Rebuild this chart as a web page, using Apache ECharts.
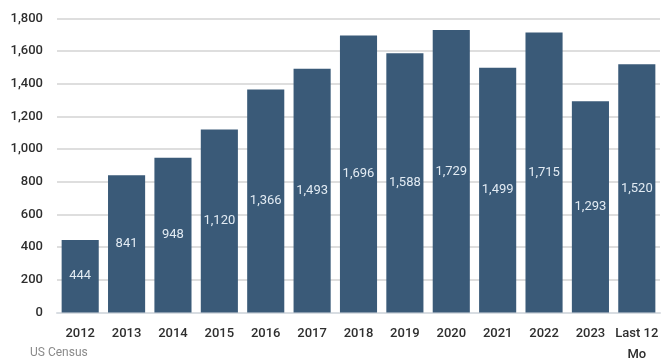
<!DOCTYPE html>
<html>
<head>
<meta charset="utf-8">
<script src="https://cdn.jsdelivr.net/npm/echarts@6/dist/echarts.min.js"></script>
<style>
  html, body { margin: 0; padding: 0; background: #ffffff; }
  #chart { width: 667px; height: 362px; }
</style>
</head>
<body>
<div id="chart"></div>
<script>
// Annual values by year, plus the trailing twelve months
const categories = ['2012', '2013', '2014', '2015', '2016', '2017', '2018', '2019', '2020', '2021', '2022', '2023', 'Last 12\nMo'];
const values = [444, 841, 948, 1120, 1366, 1493, 1696, 1588, 1729, 1499, 1715, 1293, 1520];
const yTicks = [0, 200, 400, 600, 800, 1000, 1200, 1400, 1600, 1800];
const sourceNote = 'US Census';

const FONT = 'Roboto, "Noto Sans", sans-serif';
const fmt = v => v.toLocaleString('en-US');

const chart = echarts.init(document.getElementById('chart'), null, { renderer: 'canvas' });
chart.setOption({
  animation: false,
  backgroundColor: '#ffffff',
  grid: {
    left: 57, right: 7, top: 18.5, bottom: 49.5,
    containLabel: false, outerBoundsMode: 'none'
  },
  graphic: [{
    type: 'text',
    left: 30,
    top: 347,
    style: { text: sourceNote, fill: '#8a8a8a', font: '12px ' + FONT }
  }],
  xAxis: {
    type: 'category',
    data: categories,
    axisTick: { show: false },
    axisLine: { show: true, lineStyle: { color: '#d8dde2', width: 2 } },
    axisLabel: {
      color: '#2e2e2e', fontFamily: FONT, fontSize: 13, fontWeight: 500,
      margin: 11, lineHeight: 21, interval: 0
    }
  },
  yAxis: {
    type: 'value',
    min: yTicks[0],
    max: yTicks[yTicks.length - 1],
    interval: yTicks[1] - yTicks[0],
    axisLine: { show: false },
    axisTick: { show: false },
    splitLine: { lineStyle: { color: '#dedede', width: 2 } },
    axisLabel: {
      color: '#2e2e2e', fontFamily: FONT, fontSize: 13, fontWeight: 500,
      margin: 14, formatter: v => fmt(v)
    }
  },
  series: [{
    type: 'bar',
    data: values,
    barCategoryGap: '20%',
    itemStyle: { color: '#3a5a78' },
    label: {
      show: true,
      position: 'inside',
      color: '#e2ebf3',
      fontFamily: FONT,
      fontSize: 13,
      formatter: p => fmt(p.value)
    }
  }]
});
</script>
</body>
</html>
